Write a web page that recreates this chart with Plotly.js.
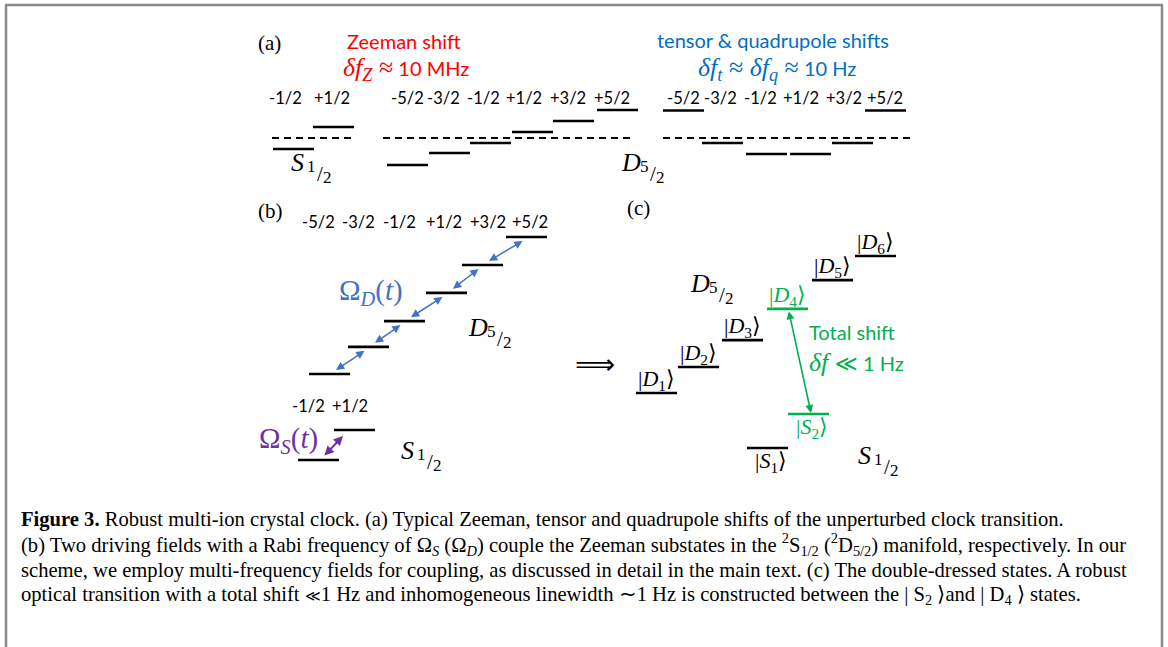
<!DOCTYPE html>
<html><head><meta charset="utf-8">
<script src="https://cdn.plot.ly/plotly-3.0.1.min.js"></script>
<style>html,body{margin:0;padding:0;background:#fff;overflow:hidden}#chart{width:1168px;height:647px}</style>
</head><body><div id="chart"></div>
<script>
// ================= DATA =================
// magnetic sub-level labels
const mjS = ['-1/2', '+1/2'];
const mjD = ['-5/2', '-3/2', '-1/2', '+1/2', '+3/2', '+5/2'];
// (a) shifts of the bare sub-levels (drawing units, + = up)
const zeemanShiftS = [-1.0, 1.0];
const zeemanShiftD = [-2.45, -1.36, -0.45, 0.55, 1.55, 2.55];
const tensorShiftD = [2.5, -0.45, -1.45, -1.45, -0.45, 2.5];
// (b) coupled ladder energies (drawing units)
const ladderD = [-2.5, -1.51, -0.57, 0.46, 1.48, 2.5];
const ladderS = [-0.55, 0.55];
// (c) double-dressed states
const dressedDIdx = ['1', '2', '3', '4', '5', '6'];
const dressedDEnergy = [-2.5, -1.55, -0.57, 0.57, 1.62, 2.5];
const dressedSIdx = ['1', '2'];
const dressedSEnergy = [-0.62, 0.62];
const clockPair = {D: 3, S: 1}; // |D4> and |S2>
// caption
const LL = '<span style="font-family:DejaVu Serif;font-size:15px">≪</span>';
const captionLines = [
  '<b>Figure 3.</b> Robust multi-ion crystal clock. (a) Typical Zeeman, tensor and quadrupole shifts of the unperturbed clock transition.',
  '(b) Two driving fields with a Rabi frequency of Ω<sub><i>S</i></sub> (Ω<sub><i>D</i></sub>) couple the Zeeman substates in the <sup>2</sup>S<sub>1/2</sub> (<sup>2</sup>D<sub>5/2</sub>) manifold, respectively. In our',
  'scheme, we employ multi-frequency fields for coupling, as discussed in detail in the main text. (c) The double-dressed states. A robust',
  'optical transition with a total shift ' + LL + '1 Hz and inhomogeneous linewidth ∼1 Hz is constructed between the | S<sub>2</sub> ⟩and | D<sub>4</sub> ⟩ states.'
];

// ================= GEOMETRY / STYLE =================
const SERIF = 'Liberation Serif, Times New Roman, serif';
const SANS = 'Lato, Carlito, Calibri, sans-serif';
const RED = '#ff0000', BLUE = '#0070c0', SBLUE = '#4472c4', PURPLE = '#7030a0', GREEN = '#00b050';
const LW = 41;
const A = {base: 138, k: 11, labY: 98,
  sX: [273, 313], sLab: [285, 332],
  zX: [387, 429, 470, 512, 553, 597], zLab: [407, 443, 483, 524, 568, 612],
  tX: [663, 702, 746, 790, 832, 865], tLab: [683, 720, 760, 801, 844, 885],
  dashS: [272, 354], dashZ: [383, 635], dashT: [663, 910]};
const B = {baseD: 305.5, baseS: 445, k: 27.4,
  dX: [309, 348, 384, 426, 462, 506], dLab: [318, 358, 399, 444, 488, 530], dLabY: 222,
  sX: [298, 334], sLab: [308, 350], sLabY: 406};
const C = {baseD: 324.5, baseS: 431, k: 27.4,
  dX: [636, 678, 722, 767, 812, 855], sX: [747, 788]};
const LETTER_W = {S: 16, D: 19};

const segs = {black: {x: [], y: []}, green: {x: [], y: []}, dash: {x: [], y: []}};
function seg(key, x0, x1, y) { segs[key].x.push(x0, x1, null); segs[key].y.push(y, y, null); }
const ann = [];
function txt(x, y, text, size, color, family, xa, ya) {
  ann.push({x: x, y: y, xref: 'x', yref: 'y', text: text, showarrow: false,
    xanchor: xa || 'center', yanchor: ya || 'middle', borderpad: 0,
    font: {family: family || SANS, size: size, color: color || '#000'}});
}
function term(x0, yc, L, num, den, color) {
  color = color || '#000';
  const w = LETTER_W[L];
  txt(x0, yc, '<i>' + L + '</i>', 26, color, SERIF, 'left');
  txt(x0 + w + 5.5, yc + 4, num, 17, color, SERIF);
  txt(x0 + w + 14, yc + 12, '/', 21, color, SERIF);
  txt(x0 + w + 21, yc + 15, den, 17, color, SERIF);
}
function arrow(x0, y0, x1, y1, color, w, head, size) {
  ann.push({x: x1, y: y1, ax: x0, ay: y0, xref: 'x', yref: 'y', axref: 'x', ayref: 'y',
    text: '', showarrow: true, arrowside: 'end+start', arrowhead: head, startarrowhead: head,
    arrowsize: size, startarrowsize: size, arrowwidth: w, arrowcolor: color,
    standoff: 0, startstandoff: 0});
}
const MATH = (s, px) => '<span style="font-family:Liberation Serif;font-size:' + px + 'px">' + s + '</span>';

// ---------- panel (a) ----------
txt(269, 43, '(a)', 21, '#000', SERIF);
txt(404, 41, 'Zeeman shift', 20, RED);
txt(406, 69, MATH('<i>δf</i><sub><i>Z</i></sub> ≈', 26) + ' 10 MHz', 20, RED);
txt(773, 40, 'tensor &amp; quadrupole shifts', 20, BLUE);
txt(777, 69, MATH('<i>δf</i><sub><i>t</i></sub> ≈ <i>δf</i><sub><i>q</i></sub> ≈', 26) + ' 10 Hz', 20, BLUE);
mjS.forEach((m, i) => {
  txt(A.sLab[i], A.labY, m, 16.5);
  seg('black', A.sX[i], A.sX[i] + LW, A.base - zeemanShiftS[i] * A.k);
});
mjD.forEach((m, i) => {
  txt(A.zLab[i], A.labY, m, 16.5);
  seg('black', A.zX[i], A.zX[i] + LW, A.base - zeemanShiftD[i] * A.k);
  txt(A.tLab[i], A.labY, m, 16.5);
  seg('black', A.tX[i], A.tX[i] + LW, A.base - tensorShiftD[i] * A.k);
});
seg('dash', A.dashS[0], A.dashS[1], A.base);
seg('dash', A.dashZ[0], A.dashZ[1], A.base);
seg('dash', A.dashT[0], A.dashT[1], A.base);
term(290, 162, 'S', '1', '2');
term(620, 162, 'D', '5', '2');

// ---------- panel (b) ----------
txt(270, 211, '(b)', 21, '#000', SERIF);
const yB = ladderD.map(e => B.baseD - e * B.k);
mjD.forEach((m, i) => {
  txt(B.dLab[i], B.dLabY, m, 16.5);
  seg('black', B.dX[i], B.dX[i] + LW, yB[i]);
});
for (let i = 0; i < yB.length - 1; i++) {
  const c0 = B.dX[i] + LW / 2, c1 = B.dX[i + 1] + LW / 2;
  arrow(c0 + 5, yB[i] - 3, c1 - 4, yB[i + 1] + 4, SBLUE, 1.5, 2, 1.1);
}
const ySB = ladderS.map(e => B.baseS - e * B.k);
mjS.forEach((m, i) => {
  txt(B.sLab[i], B.sLabY, m, 16.5);
  seg('black', B.sX[i], B.sX[i] + LW, ySB[i]);
});
arrow(B.sX[0] + LW / 2 + 4.5, ySB[0] - 3, B.sX[1] + LW / 2 - 11.5, ySB[1] + 6, PURPLE, 1.9, 2, 1);
txt(371, 292, 'Ω<sub><i>D</i></sub>(<i>t</i>)', 29, SBLUE, SERIF);
txt(288, 440, 'Ω<sub><i>S</i></sub>(<i>t</i>)', 29, PURPLE, SERIF);
term(467, 327, 'D', '5', '2');
term(400, 450, 'S', '1', '2');

// ---------- panel (c) ----------
txt(638, 208, '(c)', 21, '#000', SERIF);
txt(595, 364, '⟹', 28, '#000', 'DejaVu Sans');
const yCD = dressedDEnergy.map(e => C.baseD - e * C.k);
dressedDIdx.forEach((n, i) => {
  const g = i === clockPair.D;
  seg(g ? 'green' : 'black', C.dX[i], C.dX[i] + LW, yCD[i]);
  txt(C.dX[i] + LW / 2, yCD[i] - 13, '|<i>D</i><sub>' + n + '</sub>⟩', 22, g ? GREEN : '#000', SERIF);
});
const yCS = dressedSEnergy.map(e => C.baseS - e * C.k);
dressedSIdx.forEach((n, i) => {
  const g = i === clockPair.S;
  seg(g ? 'green' : 'black', C.sX[i], C.sX[i] + LW, yCS[i]);
  txt(C.sX[i] + LW / 2 + 3, yCS[i] + 14, '|<i>S</i><sub>' + n + '</sub>⟩', 22, g ? GREEN : '#000', SERIF);
});
arrow(C.dX[clockPair.D] + LW / 2 + 1, yCD[clockPair.D] + 1, C.sX[clockPair.S] + LW / 2 + 2.5, yCS[clockPair.S] - 1, GREEN, 1.6, 2, 1);
txt(852, 332, 'Total shift', 20, GREEN);
txt(856, 362, MATH('<i>δf</i> ', 26) + '<span style="font-family:DejaVu Sans;font-size:22px">≪</span> 1 Hz', 20, GREEN);
term(689, 283, 'D', '5', '2');
term(857, 455, 'S', '1', '2');

// ---------- caption ----------
const capY = [519, 544.5, 570, 595.5];
captionLines.forEach((l, i) => txt(20, capY[i], l, 20.6, '#000', SERIF, 'left'));

// ================= FIGURE =================
const traces = [
  {x: segs.black.x, y: segs.black.y, mode: 'lines', line: {color: '#000', width: 2.6}, hoverinfo: 'skip'},
  {x: segs.green.x, y: segs.green.y, mode: 'lines', line: {color: GREEN, width: 2.6}, hoverinfo: 'skip'},
  {x: segs.dash.x, y: segs.dash.y, mode: 'lines', line: {color: '#000', width: 1.8, dash: '7px,5px'}, hoverinfo: 'skip'}
];
const frame = {type: 'line', xref: 'x', yref: 'y', line: {color: '#8a8a8a', width: 2.5}};
const layout = {
  width: 1168, height: 647, margin: {l: 0, r: 0, t: 0, b: 0},
  paper_bgcolor: '#fff', plot_bgcolor: '#fff', showlegend: false,
  xaxis: {range: [0, 1168], visible: false, fixedrange: true},
  yaxis: {range: [647, 0], visible: false, fixedrange: true},
  annotations: ann,
  shapes: [
    Object.assign({x0: 5, x1: 1163, y0: 5, y1: 5}, frame),
    Object.assign({x0: 6, x1: 6, y0: 5, y1: 647}, frame),
    Object.assign({x0: 1162, x1: 1162, y0: 5, y1: 647}, frame)
  ]
};
Plotly.newPlot('chart', traces, layout, {staticPlot: true, displayModeBar: false});
</script>
</body></html>
